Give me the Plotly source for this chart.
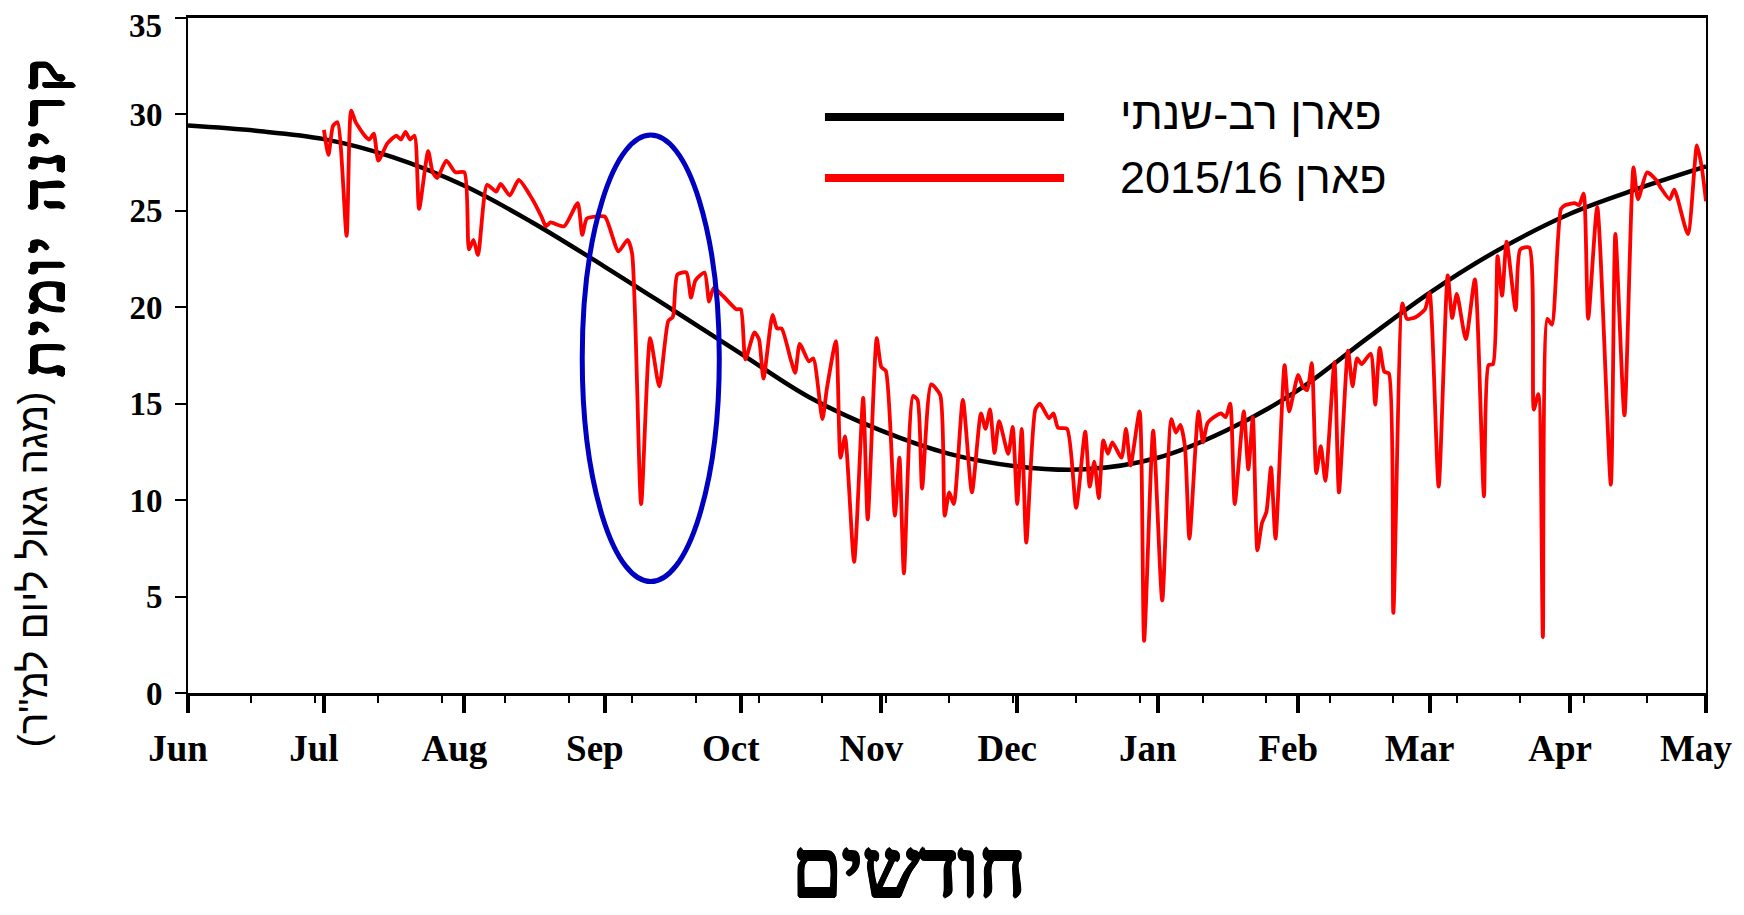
import plotly.graph_objects as go

# long-term mean daily radiation, Paran (MJ per m2 per day)
avg_dates = [
    "2015-06-01", "2015-06-16", "2015-07-01", "2015-07-16", "2015-08-01", "2015-08-16",
    "2015-09-01", "2015-09-16", "2015-10-01", "2015-10-16", "2015-11-01", "2015-11-16",
    "2015-12-01", "2015-12-16", "2016-01-01", "2016-01-16", "2016-02-01", "2016-02-16",
    "2016-03-01", "2016-03-16", "2016-04-01", "2016-04-16", "2016-05-01",
]
avg_vals = [
    29.42, 29.15, 28.72, 27.8, 26.3, 24.4,
    22.1, 19.86, 17.6, 15.35, 13.6, 12.4,
    11.75, 11.6, 12.2, 13.6, 15.7, 18.35,
    20.75, 22.95, 24.85, 26.15, 27.3,
]

# season 2015/16 daily radiation
red_dates = [
    "2015-07-01", "2015-07-02", "2015-07-03", "2015-07-04", "2015-07-06", "2015-07-07",
    "2015-07-08", "2015-07-10", "2015-07-11", "2015-07-12", "2015-07-13", "2015-07-15",
    "2015-07-17", "2015-07-18", "2015-07-19", "2015-07-20", "2015-07-21", "2015-07-22",
    "2015-07-24", "2015-07-25", "2015-07-26", "2015-07-28", "2015-07-30",
    "2015-08-01", "2015-08-02", "2015-08-03", "2015-08-04", "2015-08-06", "2015-08-08",
    "2015-08-09", "2015-08-11", "2015-08-13", "2015-08-16", "2015-08-18", "2015-08-19",
    "2015-08-20", "2015-08-23", "2015-08-26", "2015-08-27", "2015-08-28", "2015-08-30",
    "2015-09-01", "2015-09-04", "2015-09-06", "2015-09-07", "2015-09-09", "2015-09-11",
    "2015-09-13", "2015-09-15", "2015-09-16", "2015-09-17", "2015-09-19", "2015-09-20",
    "2015-09-21", "2015-09-23", "2015-09-24", "2015-09-25", "2015-09-27", "2015-09-30",
    "2015-10-01", "2015-10-02", "2015-10-04", "2015-10-05", "2015-10-06", "2015-10-08",
    "2015-10-09", "2015-10-10", "2015-10-12", "2015-10-13", "2015-10-14", "2015-10-16",
    "2015-10-17", "2015-10-19", "2015-10-20", "2015-10-22", "2015-10-23", "2015-10-24",
    "2015-10-26", "2015-10-28", "2015-10-29", "2015-10-31",
    "2015-11-01", "2015-11-02", "2015-11-04", "2015-11-05", "2015-11-06", "2015-11-08",
    "2015-11-09", "2015-11-10", "2015-11-12", "2015-11-14", "2015-11-15", "2015-11-16",
    "2015-11-17", "2015-11-19", "2015-11-21", "2015-11-23", "2015-11-24", "2015-11-25",
    "2015-11-26", "2015-11-27", "2015-11-29", "2015-11-30",
    "2015-12-01", "2015-12-02", "2015-12-03", "2015-12-05", "2015-12-06", "2015-12-08",
    "2015-12-09", "2015-12-10", "2015-12-12", "2015-12-14", "2015-12-16", "2015-12-17",
    "2015-12-18", "2015-12-19", "2015-12-20", "2015-12-21", "2015-12-22", "2015-12-24",
    "2015-12-25", "2015-12-26", "2015-12-28", "2015-12-29", "2015-12-31",
    "2016-01-02", "2016-01-04", "2016-01-05", "2016-01-06", "2016-01-07", "2016-01-08",
    "2016-01-10", "2016-01-11", "2016-01-12", "2016-01-14", "2016-01-15", "2016-01-16",
    "2016-01-17", "2016-01-18", "2016-01-20", "2016-01-21", "2016-01-22", "2016-01-23",
    "2016-01-24", "2016-01-25", "2016-01-26", "2016-01-27", "2016-01-29", "2016-01-30",
    "2016-02-01", "2016-02-02", "2016-02-03", "2016-02-04", "2016-02-05", "2016-02-06",
    "2016-02-07", "2016-02-09", "2016-02-10", "2016-02-12", "2016-02-13", "2016-02-14",
    "2016-02-15", "2016-02-17", "2016-02-18", "2016-02-19", "2016-02-20", "2016-02-21",
    "2016-02-22", "2016-02-24", "2016-02-25", "2016-02-27", "2016-02-29",
    "2016-03-01", "2016-03-03", "2016-03-05", "2016-03-06", "2016-03-07", "2016-03-09",
    "2016-03-11", "2016-03-13", "2016-03-14", "2016-03-15", "2016-03-16", "2016-03-17",
    "2016-03-18", "2016-03-20", "2016-03-21", "2016-03-23", "2016-03-24", "2016-03-25",
    "2016-03-26", "2016-03-27", "2016-03-28", "2016-03-30", "2016-03-31",
    "2016-04-02", "2016-04-03", "2016-04-04", "2016-04-05", "2016-04-07", "2016-04-10",
    "2016-04-11", "2016-04-13", "2016-04-15", "2016-04-16", "2016-04-18", "2016-04-20",
    "2016-04-21", "2016-04-23", "2016-04-24", "2016-04-27", "2016-04-29", "2016-04-30",
    "2016-05-01",
]
red_vals = [
    29.2, 27.9, 29.4, 29.6, 23.7, 30.2,
    29.6, 28.9, 28.7, 29.0, 27.6, 28.5,
    28.9, 28.7, 29.1, 28.7, 28.9, 25.1,
    28.1, 27.0, 26.7, 27.6, 27.0,
    27.0, 23.0, 23.5, 22.7, 26.35, 26.0,
    26.4, 25.8, 26.6, 25.6, 24.7, 24.2,
    24.4, 24.2, 25.4, 23.75, 24.6, 24.7,
    24.7, 22.9, 23.5, 22.8, 9.8, 18.4,
    15.9, 19.3, 19.5, 21.7, 21.8, 20.5,
    21.4, 21.8, 20.3, 21.0, 20.6, 19.9,
    19.9, 17.3, 18.7, 18.35, 16.3, 19.6,
    18.9, 18.9, 17.3, 16.6, 18.1, 17.2,
    17.35, 14.2, 15.8, 18.25, 12.2, 13.3,
    6.8, 15.3, 9.0, 18.4,
    16.9, 16.7, 9.2, 12.2, 6.2, 15.4,
    15.2, 10.6, 16.0, 15.45, 9.2, 10.4,
    9.8, 15.2, 10.4, 14.5, 13.7, 14.7,
    12.45, 14.1, 12.4, 13.8,
    9.8, 13.7, 7.8, 14.7, 15.0, 14.25,
    14.5, 13.75, 13.7, 9.6, 13.55, 10.7,
    12.0, 10.1, 13.1, 12.4, 13.0, 12.2,
    13.7, 11.8, 14.6, 2.7, 13.6,
    4.8, 14.2, 13.5, 13.9, 12.8, 8.0,
    14.6, 13.0, 14.0, 14.4, 14.5, 14.3,
    15.0, 9.8, 14.6, 11.6, 14.3, 7.4,
    8.8, 9.4, 11.7, 8.0, 17.0, 14.6,
    16.5, 15.9, 15.7, 17.1, 11.4, 12.8,
    11.0, 17.15, 10.4, 17.75, 15.9, 17.35,
    17.05, 17.6, 14.95, 17.9, 16.66, 16.57,
    4.15, 20.2, 19.4, 19.5, 19.9,
    20.75, 10.7, 21.65, 19.45, 20.7, 18.35,
    21.45, 10.2, 17.0, 17.05, 22.65, 20.6,
    23.4, 19.85, 23.0, 23.1, 14.7, 15.5,
    2.9, 19.4, 19.1, 25.1, 25.3,
    25.4, 25.3, 25.9, 19.4, 25.2, 10.8,
    23.8, 14.4, 27.25, 25.6, 27.0, 26.6,
    26.2, 25.6, 26.1, 23.8, 28.4, 27.35,
    25.5,
]

y_ticks = [0, 5, 10, 15, 20, 25, 30, 35]
y_ticktext = ["0", "5", "10", "15", "20", "25", "30", ""]  # top label drawn separately
y_top_label = "35"

label_avg = "פארן רב-שנתי"
label_season = "פארן 2015/16"
y_title = "קרינה יומית"
y_units = "\u200f(מגה גאול ליום למ\"ר)\u200f"
x_title = "חודשים"

serif = "Liberation Serif"
sans = "Liberation Sans"
# faux-bold for the Hebrew serif titles
heavy = ("1.6px 0 0 black, -1.6px 0 0 black, 0 1.6px 0 black, 0 -1.6px 0 black, "
         "1.1px 1.1px 0 black, -1.1px -1.1px 0 black, 1.1px -1.1px 0 black, -1.1px 1.1px 0 black")
tick_font = dict(family=serif, size=33, color="black", weight="bold")

fig = go.Figure()
fig.add_trace(go.Scatter(
    x=avg_dates, y=avg_vals, mode="lines", name=label_avg,
    line=dict(color="black", width=4.5, shape="spline", smoothing=1.0),
))
fig.add_trace(go.Scatter(
    x=red_dates, y=red_vals, mode="lines", name=label_season,
    line=dict(color="#ff0000", width=3.8, shape="spline", smoothing=0.6),
))

# legend drawn by hand (long line samples)
for yy, col in [(0.8533, "black"), (0.763, "#ff0000")]:
    fig.add_shape(type="line", xref="paper", yref="paper",
                  x0=0.4196, x1=0.5771, y0=yy, y1=yy,
                  line=dict(color=col, width=8))
fig.add_annotation(text=label_avg, xref="paper", yref="paper", x=0.6126, y=0.859,
                   xanchor="left", yanchor="middle", showarrow=False,
                   font=dict(family=sans, size=45, color="black"))
fig.add_annotation(text=label_season, xref="paper", yref="paper", x=0.6126, y=0.7644,
                   xanchor="left", yanchor="middle", showarrow=False,
                   font=dict(family=sans, size=45, color="black"))

# highlighted September event
fig.add_shape(type="circle", xref="x", yref="y",
              x0="2015-08-27", x1="2015-09-26 06:00", y0=5.78, y1=28.93,
              line=dict(color="#0000c0", width=5))

# top y label, nudged down so it stays inside the page
fig.add_annotation(text=y_top_label, xref="paper", yref="y", x=0, y=y_ticks[-1],
                   xanchor="right", yanchor="middle", xshift=-24.5, yshift=-8,
                   showarrow=False, font=tick_font)

# axis titles
fig.add_annotation(text=f'<span style="letter-spacing:6px">{y_title}</span>',
                   xref="paper", yref="paper", x=-0.0952, y=0.708,
                   xanchor="center", yanchor="middle", textangle=-90, showarrow=False,
                   font=dict(family=serif, size=58, color="black", shadow=heavy))
fig.add_annotation(text=y_units, xref="paper", yref="paper", x=-0.1021, y=0.1831,
                   xanchor="center", yanchor="middle", textangle=-90, showarrow=False,
                   font=dict(family=sans, size=40, color="black"))
fig.add_annotation(text=x_title, xref="paper", yref="paper", x=0.475, y=-0.3274,
                   xanchor="center", yanchor="bottom", showarrow=False, borderpad=0,
                   font=dict(family=serif, size=80, color="black", shadow=heavy))

fig.update_xaxes(
    type="date", range=["2015-06-01", "2016-05-01"], automargin=False,
    tick0="2015-06-01", dtick="M1", tickformat="%b",
    ticks="outside", ticklen=17, tickwidth=3.5, tickcolor="black",
    showline=True, linewidth=2.5, linecolor="black", mirror=True,
    showgrid=False, zeroline=False, ticklabeloverflow="allow",
    tickfont=dict(family=serif, size=37, color="black", weight="bold"),
    ticklabelshift=-10, ticklabelstandoff=4,
    minor=dict(ticks="outside", ticklen=7, tickwidth=1.5, tickcolor="black",
               dtick=14 * 86400000, tick0="2015-06-15", showgrid=False),
)
fig.update_yaxes(
    range=[0, 35], tickmode="array", tickvals=y_ticks, ticktext=y_ticktext,
    automargin=False,
    ticks="outside", ticklen=11, tickwidth=2, tickcolor="black",
    showline=True, linewidth=2, linecolor="black", mirror=True,
    showgrid=False, zeroline=False,
    tickfont=tick_font, ticklabelstandoff=6,
)
# the page puts the figure 8 px in from the top-left corner
fig.update_layout(
    width=1736, height=907,
    margin=dict(l=180, r=38, t=10, b=222),
    plot_bgcolor="white", paper_bgcolor="white",
    showlegend=False,
    font=dict(family=serif, color="black"),
)

fig.write_html("out.html")
